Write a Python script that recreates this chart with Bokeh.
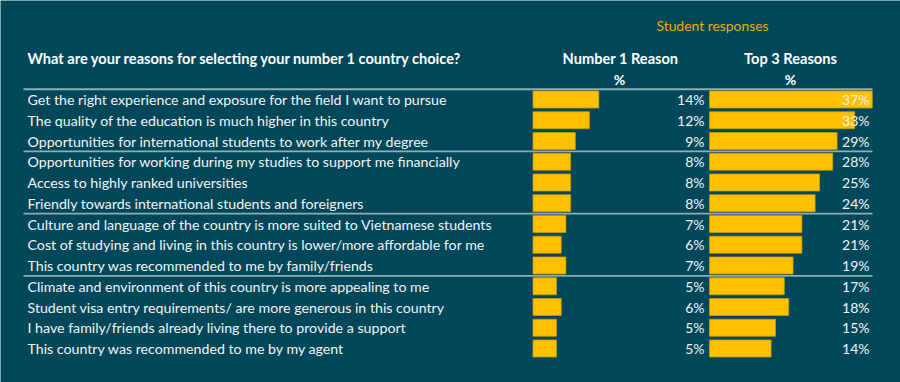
from bokeh.plotting import figure
from bokeh.models import Range1d
from bokeh.core.properties import value
from bokeh.embed import file_html
from bokeh.resources import INLINE

# --- data -------------------------------------------------------------
reasons = [
    "Get the right experience and exposure for the field I want to pursue",
    "The quality of the education is much higher in this country",
    "Opportunities for international students to work after my degree",
    "Opportunities for working during my studies to support me financially",
    "Access to highly ranked universities",
    "Friendly towards international students and foreigners",
    "Culture and language of the country is more suited to Vietnamese students",
    "Cost of studying and living in this country is lower/more affordable for me",
    "This country was recommended to me by family/friends",
    "Climate and environment of this country is more appealing to me",
    "Student visa entry requirements/ are more generous in this country",
    "I have family/friends already living there to provide a support",
    "This country was recommended to me by my agent",
]
number1 = [14, 12, 9, 8, 8, 8, 7, 6, 7, 5, 6, 5, 5]
top3 = [37, 33, 29, 28, 25, 24, 21, 21, 19, 17, 18, 15, 14]
group_breaks = [2.5, 5.5, 8.5]  # separators between groups of rows

# --- layout constants -------------------------------------------------
W, H = 900, 382
BG = "#01475a"
GOLD = "#ffc000"
FONT = "Lato"

row0_px, row_pitch = 99.0, 20.75
n1_left, n1_scale = 532.5, 4.7      # px, px per percent
t3_left, t3_scale = 709.0, 4.4

p = figure(width=W, height=H, output_backend="svg", toolbar_location=None,
           x_range=Range1d(0, W), y_range=Range1d(H, 0),
           min_border=0, background_fill_color=BG, border_fill_color=BG,
           outline_line_color=None)
p.axis.visible = False
p.grid.visible = False

top_row = -row0_px / row_pitch
p.extra_y_ranges = {"row": Range1d(top_row + H / row_pitch, top_row)}
p.extra_x_ranges = {
    "n1": Range1d(-n1_left / n1_scale, (W - n1_left) / n1_scale),
    "t3": Range1d(-t3_left / t3_scale, (W - t3_left) / t3_scale),
}

rows = list(range(len(reasons)))

# separators
p.segment(x0=23, x1=872, y0=-0.5, y1=-0.5, y_range_name="row",
          line_color="#8fadb6", line_width=2)
p.segment(x0=[23] * len(group_breaks), x1=[872] * len(group_breaks),
          y0=group_breaks, y1=group_breaks, y_range_name="row",
          line_color="#8fadb6", line_width=1.6)

# bars
p.hbar(y=rows, left=0, right=number1, height=0.82, x_range_name="n1",
       y_range_name="row", fill_color=GOLD, line_color="#c99a00", line_width=0.8)
p.hbar(y=rows, left=0, right=top3, height=0.82, x_range_name="t3",
       y_range_name="row", fill_color=GOLD, line_color="#c99a00", line_width=0.8)

# row labels
p.text(x=27, y=rows, text=reasons, y_range_name="row",
       text_font=value(FONT), text_font_size="14.2px", text_color="#f4f4f4",
       text_align="left", text_baseline="middle")

# value labels
p.text(x=704, y=rows, text=[f"{v}%" for v in number1], y_range_name="row",
       text_font=value(FONT), text_font_size="14px", text_color="#f4f4f4",
       text_align="right", text_baseline="middle")
p.text(x=869, y=rows, text=[f"{v}%" for v in top3], y_range_name="row",
       text_font=value(FONT), text_font_size="14px", text_color="#f4f4f4",
       text_align="right", text_baseline="middle")

# headers
p.text(x=[712], y=[25], text=["Student responses"], text_font=value(FONT),
       text_font_size="13.9px", text_color="#e8ae00",
       text_align="center", text_baseline="middle")
p.text(x=[27], y=[58], text=["What are your reasons for selecting your number 1 country choice?"],
       text_font=value(FONT), text_font_size="14.6px", text_font_style="bold",
       text_color="#ffffff", text_align="left", text_baseline="middle")
p.text(x=[620, 790], y=[58, 58], text=["Number 1 Reason", "Top 3 Reasons"],
       text_font=value(FONT), text_font_size="14.6px", text_font_style="bold",
       text_color="#ffffff", text_align="center", text_baseline="middle")
p.text(x=[619, 790], y=[79, 79], text=["%", "%"],
       text_font=value(FONT), text_font_size="14px", text_font_style="bold",
       text_color="#ffffff", text_align="center", text_baseline="middle")

open("out.html", "w").write(file_html(p, INLINE))
